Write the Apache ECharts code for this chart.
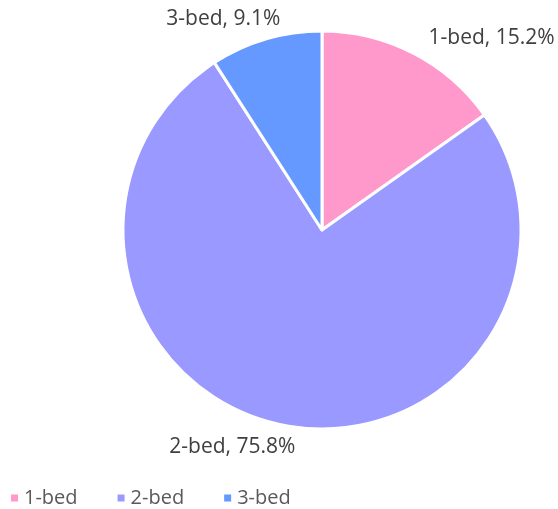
<!DOCTYPE html>
<html>
	<head>
		<meta charset="utf-8">
		<title>Bedrooms</title>
		<style type="text/css">
			html, body {
				margin: 0;
				padding: 0;
				background: #fff;
			}
			#chart {
				width: 558px;
				height: 509px;
			}
		</style>
	</head>
	<body>
		<div id="chart"></div>
		<script src="https://cdn.jsdelivr.net/npm/echarts@6/dist/echarts.min.js"></script>
		<script>
			var categories = ['1-bed', '2-bed', '3-bed'];
			var shares = [15.2, 75.8, 9.1];
			var colors = ['#FF99CC', '#9999FF', '#6699FF'];

			// small nudges so the labels sit where the original put them
			var labelOffsets = [[1, 3], [20, 2], [25, -1]];

			var myChart = echarts.init(document.getElementById('chart'));

			var data = categories.map(function (name, i) {
				return {
					name: name,
					value: shares[i],
					label: { offset: labelOffsets[i] }
				};
			});

			var option = {
				color: colors,
				textStyle: {
					fontFamily: 'Open Sans'
				},
				legend: {
					data: categories,
					left: 4,
					top: 483,
					icon: 'rect',
					itemWidth: 9,
					itemHeight: 9,
					itemGap: 38,
					textStyle: {
						color: '#595959',
						fontSize: 20
					}
				},
				series: [{
					type: 'pie',
					center: [322, 230],
					radius: 199,
					startAngle: 90,
					clockwise: true,
					data: data,
					itemStyle: {
						borderColor: '#fff',
						borderWidth: 3
					},
					label: {
						position: 'outside',
						color: '#404040',
						fontSize: 21,
						overflow: 'none',
						formatter: function (p) {
							return p.name + ', ' + p.value.toFixed(1) + '%';
						}
					},
					labelLine: {
						show: false,
						length: 20,
						length2: 0
					},
					emphasis: { disabled: true }
				}]
			};

			myChart.setOption(option);
		</script>
	</body>
</html>
